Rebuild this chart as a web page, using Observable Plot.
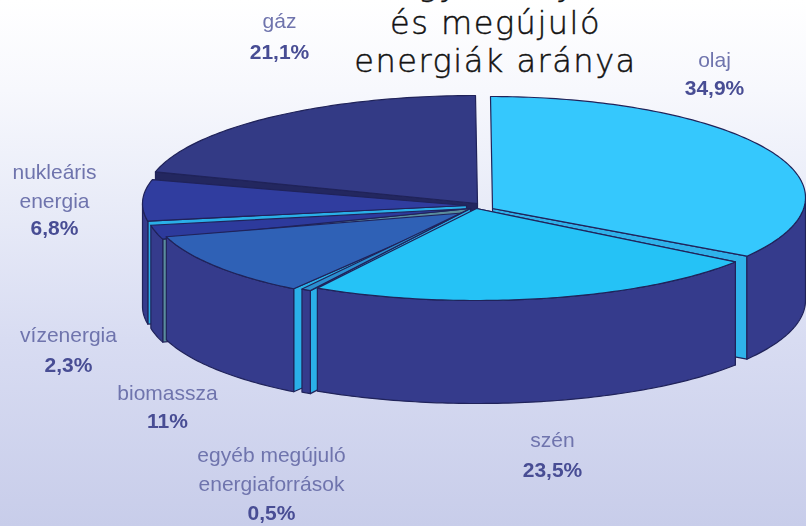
<!DOCTYPE html>
<html>
<head>
<meta charset="utf-8">
<script src="https://cdn.jsdelivr.net/npm/d3@7"></script>
<script src="https://cdn.jsdelivr.net/npm/@observablehq/plot@0.6"></script>
<style>
html,body{margin:0;padding:0;width:806px;height:526px;overflow:hidden;
background:linear-gradient(to bottom,#ffffff 0px,#f7f8fd 90px,#e9ecf8 200px,#d8dcf2 340px,#c8cdea 526px);}
svg{display:block;background:transparent !important;}
.lbl text{filter:blur(.55px);}
.pie path{filter:blur(.35px);}
.ttl text{letter-spacing:1.5px;font-weight:200;stroke:#111111;stroke-width:.45px;paint-order:normal;}
</style>
</head>
<body>
<script>
// data
const categories = ["olaj","szén","egyéb megújuló energiaforrások","biomassza","vízenergia","nukleáris energia","gáz"];
const shares = [34.9,23.5,0.5,11,2.3,6.8,21.1];
const labelLines = [["olaj"],["szén"],["egyéb megújuló","energiaforrások"],["biomassza"],["vízenergia"],["nukleáris","energia"],["gáz"]];
const valueLabels = ["34,9%","23,5%","0,5%","11%","2,3%","6,8%","21,1%"];
const titleLines = ["hagyományos","és megújuló","energiák aránya"];

// layout (separate from the values)
const W = 806, H = 526, depth = 103;
const paintOrder = ["gáz","nukleáris energia","vízenergia","biomassza","egyéb megújuló energiaforrások","olaj","szén"];
// centre x, centre y, radius x, radius y, apex x, apex y
const wedgeFrame = {
  "olaj":[490,197,315,101,492,208],
  "szén":[476,208,318,92,476,208],
  "egyéb megújuló energiaforrások":[466,207,312,96,470,208],
  "biomassza":[453,205,303,98,468,212],
  "vízenergia":[475,207,330,99,470,208],
  "nukleáris energia":[470,203,328,98,466,205],
  "gáz":[475,196,330,101,477,203]
};
const topColor = {"olaj":"#35c8fd","szén":"#25c2f6","egyéb megújuló energiaforrások":"#2b8fd0","biomassza":"#2f61b6","vízenergia":"#2d3a9c","nukleáris energia":"#303d9f","gáz":"#333a85"};
const faceColor = {"olaj":"#2fb2ea","szén":"#2fb2ea","egyéb megújuló energiaforrások":"#2ab0e8","biomassza":"#2ab0e8","vízenergia":"#5a8d9c","nukleáris energia":"#2ab0e8","gáz":"#23275f"};
const wallColor = "#353b8c";
// x, y of the name, y of the value
const labelAnchor = {"olaj":[714,60,88],"szén":[552,440,470],"egyéb megújuló energiaforrások":[271,455,513],"biomassza":[167,393,421],"vízenergia":[68,335,365],"nukleáris energia":[54,172,228],"gáz":[279,21,52]};

// build polygons from the shares
const total = d3.sum(shares);
let acc = 0;
const wedges = categories.map((c,i)=>{const a0=acc/total*360; acc+=shares[i]; return {c,a0,a1:acc/total*360};});
const rad = d=>d*Math.PI/180;
const rim=(f,a,dy=0)=>({x:f[0]+f[2]*Math.sin(rad(a)),y:f[1]-f[3]*Math.cos(rad(a))+dy});
const arc=(f,a0,a1,dy=0)=>{const n=Math.max(2,Math.ceil(Math.abs(a1-a0)));return d3.range(n+1).map(k=>rim(f,a0+(a1-a0)*k/n,dy));};
const polys=[];
const push=(id,fill,pts)=>pts.forEach(p=>polys.push({...p,id,fill}));
paintOrder.forEach(name=>{
  const w=wedges.find(d=>d.c===name), f=wedgeFrame[name], apex={x:f[4],y:f[5]};
  const cut=(w.a1<=180)?w.a1:w.a0; // the radial face that looks towards the viewer
  const r=rim(f,cut);
  push(name+"-face",faceColor[name],[apex,r,{x:r.x,y:r.y+depth},{x:apex.x,y:apex.y+depth},apex]);
  const s=Math.max(w.a0,90), e=Math.min(w.a1,270);
  if(e>s){const up=arc(f,s,e), dn=arc(f,e,s,depth); push(name+"-wall",wallColor,[...up,...dn,up[0]]);}
  push(name+"-top",topColor[name],[apex,...arc(f,w.a0,w.a1),apex]);
});

// label rows
const nameRows=[], valueRows=[];
categories.forEach((c,i)=>{
  const [x,y,vy]=labelAnchor[c];
  labelLines[i].forEach((t,k)=>nameRows.push({x,y:y+k*29,t}));
  valueRows.push({x,y:vy,t:valueLabels[i]});
});
const titleRows=titleLines.map((t,k)=>({x:495,y:-15+k*38,t}));

const chart=Plot.plot({
  width:W,height:H,margin:0,
  x:{domain:[0,W],range:[0,W],axis:null},
  y:{domain:[0,H],range:[0,H],axis:null},
  color:{type:"identity"},
  marks:[
    Plot.line(polys,{x:"x",y:"y",z:"id",fill:"fill",stroke:"#20235a",strokeWidth:1.2,curve:"linear",className:"pie"}),
    Plot.text(nameRows,{x:"x",y:"y",text:"t",fontSize:21,fontFamily:"Liberation Sans",fill:"#6f74ad",className:"lbl"}),
    Plot.text(valueRows,{x:"x",y:"y",text:"t",fontSize:21,fontWeight:"bold",fontFamily:"Liberation Sans",fill:"#484d94",className:"lbl"}),
    Plot.text(titleRows,{x:"x",y:"y",text:"t",fontSize:32,fontFamily:"DejaVu Sans",fill:"#111111",className:"ttl"})
  ]
});
document.body.appendChild(chart);
</script>
</body>
</html>
